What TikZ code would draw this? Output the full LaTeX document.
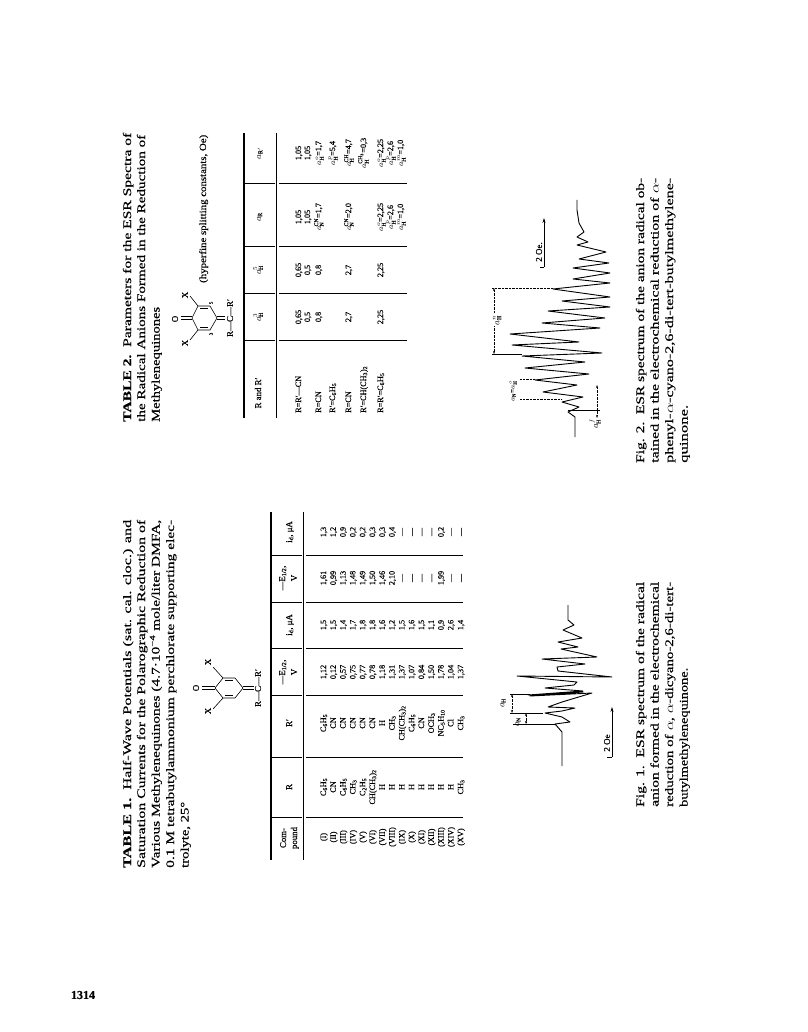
\documentclass[tikz,border=0pt]{standalone}
\usepackage{fontspec}
\usepackage{graphicx}
\setmainfont{Liberation Serif}[FakeBold=0.25]
\usetikzlibrary{arrows.meta}
\tikzset{
  capline/.style={rotate=90,anchor=base west,inner sep=0pt,font=\fontsize{11.5}{13}\selectfont},
  tcell/.style={rotate=90,anchor=base,inner sep=0pt,font=\fontsize{8.2}{9}\selectfont},
  hcell/.style={rotate=90,anchor=base,inner sep=0pt,font=\fontsize{8.8}{9}\selectfont},
  chem/.style={rotate=90,inner sep=0pt,font=\fontsize{9}{10}\selectfont},
  thickrule/.style={line width=1.5pt,black},
  colrule/.style={line width=0.7pt,black},
  bond/.style={line width=0.6pt,black},
  sptrace/.style={line width=0.9pt,black,line join=round},
  markline/.style={line width=0.5pt,black},
  dotline/.style={line width=0.4pt,black,densely dotted},
  dimline/.style={line width=0.4pt,black,densely dotted,{Stealth[length=3pt,width=2pt]}-{Stealth[length=3pt,width=2pt]}},
  scalearrow/.style={line width=0.6pt,black,-{Stealth[length=5pt,width=3pt]}}
}
\newcommand\capL[4]{\node[capline] at (#1,#2) {\resizebox{#3pt}{\height}{#4}};}
\newcommand\colT[2]{\foreach \vv [count=\ii from 0] in {#2} {\node[tcell] at ({326+9.8*\ii},#1) {\vv};}}
\newcommand\sbs[1]{\textsubscript{#1}}
\begin{document}
\begin{tikzpicture}[x=1pt,y=-1pt]
\useasboundingbox (0,0) rectangle (807,1032);
\fill[white] (0,0) rectangle (807,1032);
% ---- Table 1 caption
\capL{131}{868}{348}{\textbf{TABLE 1.}\ \ Half-Wave Potentials (sat. cal. cloc.) and}
\capL{145}{868}{348}{Saturation Currents for the Polarographic Reduction of}
\capL{159.5}{868}{348}{Various Methylenequinones (4.7·10\textsuperscript{−4} mole/liter DMFA,}
\capL{174}{868}{348}{0.1 M tetrabutylammonium perchlorate supporting elec-}
\capL{188.5}{868}{66}{trolyte, 25°}
% ---- Formula 1
\draw[bond] (215,688) -- (223,678) (223,678) -- (235,678) (235,678) -- (243,688) (243,688) -- (235,698) (235,698) -- (223,698) (223,698) -- (215,688);
\draw[bond] (225,680.5) -- (233,680.5) (225,695.5) -- (233,695.5);
\draw[bond] (202,686.5) -- (215,686.5) (202,689.5) -- (215,689.5);
\draw[bond] (243,686.5) -- (254,686.5) (243,689.5) -- (254,689.5);
\draw[bond] (223,678) -- (213,667) (223,698) -- (213,709);
\node[chem] at (196,688) {O};
\node[chem] at (208,662) {X};
\node[chem] at (208,711) {X};
\node[chem] at (258,688) {R—C—R′};
% ---- Table 1 rules
\draw[thickrule] (271,512) -- (271,860);
\draw[colrule,line width=1pt] (303,512) -- (303,860);
\foreach \y in {555,602,648,695,757,817} {
  \draw[colrule] (272,\y) -- (302,\y);
  \draw[colrule] (306,\y) -- (463,\y);
}
% ---- Table 1 head
\node[hcell] at (286,838) {Com-};
\node[hcell] at (297,838) {pound};
\node[hcell] at (292,787) {R};
\node[hcell] at (292,723) {R′};
\node[hcell] at (285,672) {—E\sbs{1/2},};
\node[hcell] at (297,672) {V};
\node[hcell] at (292,625) {i\sbs{d}, μA};
\node[hcell] at (285,578) {—E\sbs{1/2},};
\node[hcell] at (297,578) {V};
\node[hcell] at (292,532) {i\sbs{d}, μA};
% ---- Table 1 body
\colT{837}{(I),(II),(III),(IV),(V),(VI),(VII),(VIII),(IX),(X),(XI),(XII),(XIII),(XIV),(XV)}
\colT{787}{C\sbs{6}H\sbs{5},CN,C\sbs{6}H\sbs{5},CH\sbs{3},C\sbs{2}H\sbs{5},CH(CH\sbs{3})\sbs{2},H,H,H,H,H,H,H,H,CH\sbs{3}}
\colT{723}{C\sbs{6}H\sbs{5},CN,CN,CN,CN,CN,H,CH\sbs{3},CH(CH\sbs{3})\sbs{2},C\sbs{6}H\sbs{5},CN,OCH\sbs{3},NC\sbs{5}H\sbs{10},Cl,CH\sbs{3}}
\colT{672}{{1,12},{0,12},{0,57},{0,75},{0,77},{0,78},{1,18},{1,31},{1,37},{1,07},{0,84},{1,50},{1,78},{1,04},{1,37}}
\colT{625}{{1,5},{1,5},{1,4},{1,7},{1,8},{1,8},{1,6},{1,2},{1,5},{1,6},{1,5},{1,1},{0,9},{2,6},{1,4}}
\colT{578}{{1,61},{0,99},{1,13},{1,48},{1,49},{1,50},{1,46},{2,10},—,—,—,—,{1,99},—,—}
\colT{532}{{1,3},{1,2},{0,9},{0,2},{0,2},{0,3},{0,3},{0,4},—,—,—,—,{0,2},—,—}
% ---- Table 2 caption
\capL{131}{422}{289}{\textbf{TABLE 2.}\ \ Parameters for the ESR Spectra of}
\capL{145}{422}{287}{the Radical Anions Formed in the Reduction of}
\capL{159.5}{422}{115}{Methylenequinones}
% ---- Formula 2
\draw[bond] (192,318) -- (198,330) (198,330) -- (210,330) (210,330) -- (217,318) (217,318) -- (210,306) (210,306) -- (198,306) (198,306) -- (192,318);
\draw[bond] (200,327.5) -- (208,327.5) (200,308.5) -- (208,308.5);
\draw[bond] (181,316.5) -- (192,316.5) (181,319.5) -- (192,319.5);
\draw[bond] (217,316.5) -- (225,316.5) (217,319.5) -- (225,319.5);
\draw[bond] (198,330) -- (190,340) (198,306) -- (190,296);
\node[chem] at (175,319) {O};
\node[chem] at (185,343) {X};
\node[chem] at (185,295) {X};
\node[chem] at (230,318) {R—C—R′};
\node[chem,font=\fontsize{5}{6}\selectfont] at (211,334) {3};
\node[chem,font=\fontsize{5}{6}\selectfont] at (211,303) {5};
\node[rotate=90,anchor=base west,inner sep=0pt,font=\fontsize{9.5}{11}\selectfont] at (206,283) {\resizebox{148pt}{\height}{(hyperfine splitting constants, Oe)}};
% ---- Table 2 rules
\draw[thickrule] (244,133) -- (244,418);
\draw[colrule,line width=1pt] (276,133) -- (276,418);
\foreach \y in {183,246,293,340} {
  \draw[colrule] (245,\y) -- (275,\y);
  \draw[colrule] (279,\y) -- (407,\y);
}
% ---- Table 2 head
\node[hcell] at (261,393) {R and R′};
\node[hcell] at (261,317) {$a^{3}_{\mathrm{H}}$};
\node[hcell] at (261,270) {$a^{5}_{\mathrm{H}}$};
\node[hcell] at (261,217) {$a_{\mathrm{R}}$};
\node[hcell] at (261,153) {$a_{\mathrm{R}'}$};
% ---- Table 2 body
\foreach \x/\t in {301/{R=R′—CN},321/{R=CN},335/{R′=C\sbs{6}H\sbs{5}},351/{R=CN},366/{R′=CH(CH\sbs{3})\sbs{2}},383/{R=R′=C\sbs{6}H\sbs{5}}}
  {\node[tcell,anchor=base west] at (\x,413) {\t};}
\foreach \x/\t in {301/{0,65},310/{0,5},321/{0,8},351/{2,7},383/{2,25}}
  {\node[tcell] at (\x,317) {\t}; \node[tcell] at (\x,270) {\t};}
\foreach \x/\t in {301/{1,05},310/{1,05},321/{$a_{\mathrm{N}}^{\mathrm{CN}}$=1,7},351/{$a_{\mathrm{N}}^{\mathrm{CN}}$=2,0},383/{$a_{\mathrm{H}}^{o}$=2,25},393/{$a_{\mathrm{H}}^{p}$=2,6},403/{$a_{\mathrm{H}}^{m}$=1,0}}
  {\node[tcell] at (\x,217) {\t};}
\foreach \x/\t in {301/{1,05},310/{1,05},321/{$a_{\mathrm{H}}^{o}$=1,7},335/{$a_{\mathrm{H}}^{p}$=5,4},351/{$a_{\mathrm{H}}^{\mathrm{CH}}$=4,7},366/{$a_{\mathrm{H}}^{\mathrm{CH_3}}$=0,3},383/{$a_{\mathrm{H}}^{o}$=2,25},393/{$a_{\mathrm{H}}^{p}$=2,6},403/{$a_{\mathrm{H}}^{m}$=1,0}}
  {\node[tcell] at (\x,153) {\t};}
% ---- Fig 1 spectrum
\draw[sptrace] (562,766) -- (562,732) -- (555,724) -- (570,722) -- (562,717) -- (545,713) -- (562,711) -- (575,708) -- (548,707) -- (562,702) -- (592,693) -- (530,696) -- (583,692) -- (528,695)
 -- (583,691) -- (545,688) -- (574,685) -- (577,682) -- (517,676) -- (612,677) -- (558,671) -- (557,667) -- (585,664) -- (542,659) -- (597,657) -- (561,649) -- (578,647) -- (558,642) -- (582,638) -- (563,630) -- (574,625) -- (568,620) -- (568,605);
\draw[markline] (510,694) -- (530,694);
\draw[markline] (510,713) -- (543,713);
\draw[markline] (513,724) -- (555,724);
\draw[dimline] (512,694) -- (512,713);
\draw[dimline] (526,713) -- (526,724);
\node[chem] at (503,703) {$a_{\mathrm{H}}$};
\node[chem] at (518,722) {$a_{\mathrm{N}}$};
\draw[scalearrow] (612,757) -- (612,707);
\draw[markline,line width=0.6pt] (607,757) -- (612,757);
\node[chem] at (607,743) {2 Oe};
% ---- Fig 1 caption
\capL{644}{807}{225}{Fig. 1.\ \ ESR spectrum of the radical}
\capL{658.5}{807}{225}{anion formed in the electrochemical}
\capL{673}{807}{225}{reduction of $\alpha$, $\alpha$-dicyano-2,6-di-tert-}
\capL{687.5}{807}{139}{butylmethylenequinone.}
% ---- Fig 2 spectrum
\draw[sptrace] (575,437) -- (575,417) -- (568,412) -- (579,407) -- (562,402) -- (583,397) -- (543,392) -- (577,385) -- (535,380) -- (589,374) -- (525,368) -- (585,362) -- (522,356) -- (602,353) -- (512,345) -- (579,342) -- (510,334) -- (600,328) -- (542,323) -- (605,318) -- (548,311) -- (610,307) -- (562,301) -- (610,297) -- (553,289) -- (610,283) -- (573,279) -- (610,273) -- (573,268) -- (609,263) -- (579,259) -- (606,252) -- (577,245) -- (588,242) -- (577,237) -- (584,232) -- (579,223) -- (577,210) -- (577,200);
\draw[markline] (492,354) -- (522,354);
\draw[dotline] (492,288) -- (553,288);
\draw[dimline] (494,288) -- (494,354);
\draw[dotline] (520,379) -- (535,379);
\draw[dotline] (520,399) -- (562,399);
\draw[markline] (568,410) -- (600,410);
\draw[dimline] (597,385) -- (597,418);
\node[chem,fill=white,inner sep=0.5pt] at (497,320) {$a_{\mathrm{H}}^{n}$};
\node[chem,font=\fontsize{7}{8}\selectfont] at (513,391) {$a_{\mathrm{N}}$=$a_{\mathrm{H}}^{o}$};
\node[chem] at (595,424) {$a_{\mathrm{H}}^{f}$};
\draw[scalearrow] (544,267) -- (544,218);
\draw[markline,line width=0.6pt] (540,267) -- (544,267);
\node[chem] at (539,252) {2 Oe.};
% ---- Fig 2 caption
\capL{644}{463}{285}{Fig. 2.\ \ ESR spectrum of the anion radical ob-}
\capL{658.5}{463}{285}{tained in the electrochemical reduction of $\alpha$-}
\capL{673}{463}{285}{phenyl-$\alpha$-cyano-2,6-di-tert-butylmethylene-}
\capL{687.5}{463}{58}{quinone.}
% ---- Page number
\node[inner sep=0pt,font=\fontsize{12}{13}\selectfont\bfseries] at (83,995) {1314};
\end{tikzpicture}
\end{document}
